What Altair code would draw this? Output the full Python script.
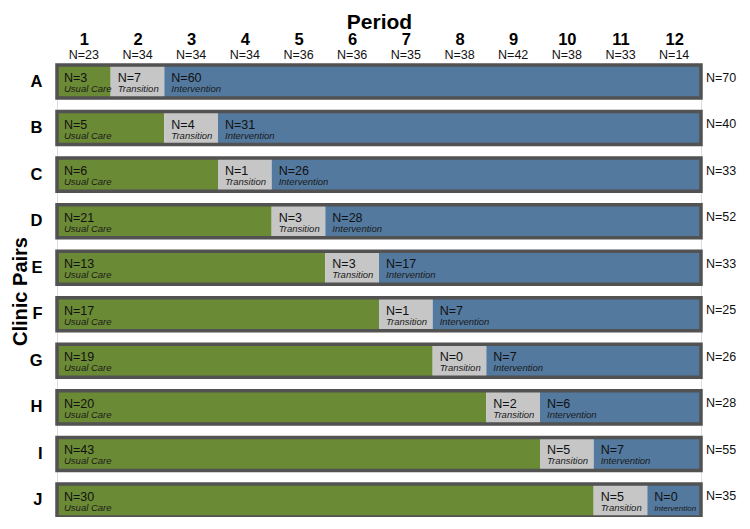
import altair as alt
import pandas as pd

# ---- data ----
rows = list("ABCDEFGHIJ")
usual_n = [3, 5, 6, 21, 13, 17, 19, 20, 43, 30]
trans_n = [7, 4, 1, 3, 3, 1, 0, 2, 5, 5]
interv_n = [60, 31, 26, 28, 17, 7, 7, 6, 7, 0]
row_totals = [70, 40, 33, 52, 33, 25, 26, 28, 55, 35]
transition_period = [2, 3, 4, 5, 6, 7, 8, 9, 10, 11]
periods = list(range(1, 13))
period_n = [23, 34, 34, 34, 36, 36, 35, 38, 42, 38, 33, 14]
phases = ["Usual Care", "Transition", "Intervention"]
phase_colors = ["#6b8a35", "#c6c6c6", "#53799f"]

FONT = "Liberation Sans"

seg_records = []
for r, u, t, v, tp in zip(rows, usual_n, trans_n, interv_n, transition_period):
    seg_records.append(dict(row=r, phase="Usual Care", start=0.5, end=tp - 0.5, n=f"N={u}"))
    seg_records.append(dict(row=r, phase="Transition", start=tp - 0.5, end=tp + 0.5, n=f"N={t}"))
    seg_records.append(dict(row=r, phase="Intervention", start=tp + 0.5, end=12.5, n=f"N={v}"))
seg = pd.DataFrame(seg_records)

row_df = pd.DataFrame({"row": rows, "start": 0.5, "end": 12.5,
                       "total": [f"N={v}" for v in row_totals]})
head_df = pd.DataFrame({"period": periods, "n": [f"N={v}" for v in period_n]})

xscale = alt.Scale(domain=[0.5, 12.5], nice=False, zero=False)
xaxis = alt.Axis(orient="top", values=periods, format="d", title="Period",
                 domain=False, ticks=False, tickSize=0, grid=False,
                 labelFont=FONT, labelFontSize=16.5, labelFontWeight="bold",
                 labelColor="#000", labelBaseline="alphabetic", labelPadding=21,
                 titleFont=FONT, titleFontSize=21, titleFontWeight="bold",
                 titleColor="#000", titlePadding=-1)
yscale = alt.Scale(domain=rows, paddingInner=0.29, paddingOuter=0)
yaxis = alt.Axis(title="Clinic Pairs", domain=False, ticks=False, tickSize=0, grid=False,
                 labelFont=FONT, labelFontSize=16.5, labelFontWeight="bold",
                 labelColor="#000", labelPadding=15,
                 titleFont=FONT, titleFontSize=20, titleFontWeight="bold",
                 titleColor="#000", titlePadding=-1)


def X(field):
    return alt.X(field, type="quantitative", scale=xscale, axis=xaxis)


def Y():
    return alt.Y("row:N", scale=yscale, axis=yaxis, sort=rows)


bars = alt.Chart(seg).mark_bar(cornerRadius=0).encode(
    x=X("start"), x2="end", y=Y(),
    color=alt.Color("phase:N", scale=alt.Scale(domain=phases, range=phase_colors), legend=None),
)

outline = alt.Chart(row_df).mark_bar(fillOpacity=0, stroke="#525252", strokeWidth=3.5).encode(
    x=X("start"), x2="end", y=Y(),
)

n_text = alt.Chart(seg).mark_text(align="left", baseline="alphabetic", dx=7, dy=0.5,
                                  font=FONT, fontSize=12.5, color="#111").encode(
    x=X("start"), y=Y(), text="n:N")

narrow = "datum.phase == 'Intervention' && datum.end - datum.start < 1.5"
phase_text = alt.Chart(seg).mark_text(align="left", baseline="alphabetic", dx=7, dy=10.5,
                                      font=FONT, fontStyle="italic",
                                      color="#1a1a1a").encode(
    x=X("start"), y=Y(), text="phase:N",
    size=alt.condition(narrow, alt.value(8), alt.value(9.5)))

total_text = alt.Chart(row_df).mark_text(align="left", baseline="alphabetic", dx=5, dy=0,
                                         font=FONT, fontSize=12.5, color="#111").encode(
    x=X("end"), y=Y(), text="total:N")

head_text = alt.Chart(head_df).mark_text(align="center", baseline="alphabetic",
                                         font=FONT, fontSize=12.5, color="#111").encode(
    x=X("period"), y=alt.value(-6), text="n:N")

chart = alt.layer(bars, outline, n_text, phase_text, total_text, head_text).properties(
    width=644, height=452,
    autosize=alt.AutoSizeParams(type="none"),
    padding={"left": 49, "top": 57, "right": 41, "bottom": 0},
).configure_view(stroke=None).configure(background="white")

chart.save("out.html", embed_options={"renderer": "svg", "actions": False})
